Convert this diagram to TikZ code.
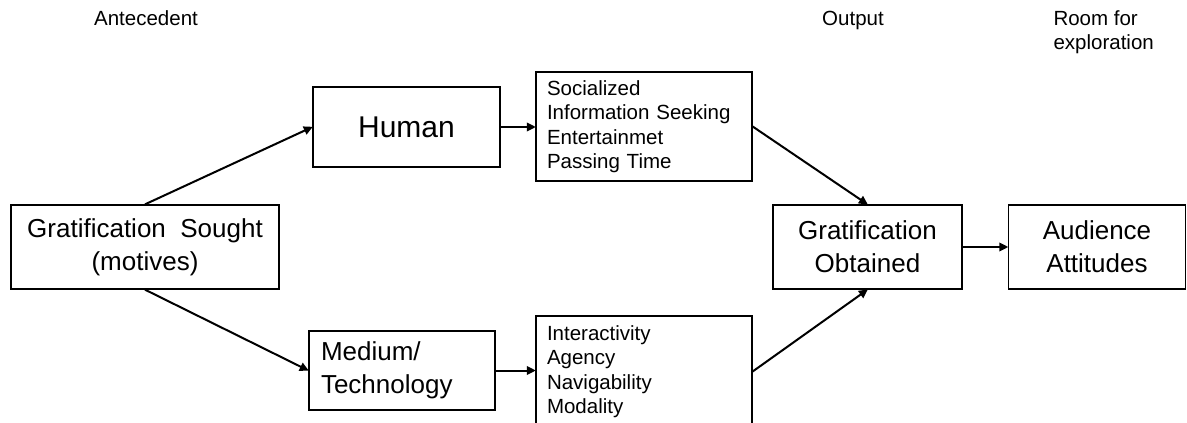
\documentclass[tikz,border=0pt]{standalone}
\usepackage{fontspec}
\setmainfont{Liberation Sans}
\usetikzlibrary{arrows.meta}
\begin{document}
\begin{tikzpicture}[x=1pt,y=-1pt,
  box/.style={draw=black,line width=1.3pt,inner sep=0pt,minimum width=#1},
  big/.style={font=\fontsize{26}{33}\selectfont,align=center},
  listbox/.style={draw=black,line width=1.3pt,inner xsep=11pt,inner ysep=0pt,
    font=\fontsize{20.5}{24.5}\selectfont,align=left,text width=194pt,minimum width=216pt},
  lbl/.style={font=\fontsize{20.5}{24}\selectfont},
  conn/.style={line width=2pt,-{Triangle[length=9pt,width=8.5pt]},shorten >=-0.5pt}]
\useasboundingbox (0,0) rectangle (1187,423);
\clip (0,0) rectangle (1187,423);

% column headings
\node[lbl] (hdA) at (146,18) {Antecedent};
\node[lbl] (hdO) at (853,20) {Output};
\node[lbl,align=left,anchor=west] (hdR) at (1050,32) {Room for\\exploration};

% boxes
\node[box=268pt,minimum height=84pt,big] (sought) at (145,247) {Gratification\ \ Sought\\(motives)};
\node[box=187pt,minimum height=80pt,big,font=\fontsize{30}{33}\selectfont] (human) at (406.5,127) {Human};
\node[box=186pt,minimum height=79pt,big,align=left,text width=162pt] (medium) at (402,370.5) {Medium/\\Technology};
\node[listbox,minimum height=109pt] (needs) at (644,126.5) {Socialized\\Information Seeking\\Entertainmet\\Passing Time};
\node[listbox,minimum height=111pt] (features) at (644,371.5) {Interactivity\\Agency\\Navigability\\Modality};
\node[box=189pt,minimum height=84pt,big] (obtained) at (867.5,247) {Gratification\\Obtained};
\node[box=177pt,minimum height=84pt,big] (attitudes) at (1097,247) {Audience\\Attitudes};

% connectors
\draw[conn] (sought.north) -- (human.west);
\draw[conn] (sought.south) -- (medium.west);
\draw[conn] (human.east) -- (human.east -| needs.west);
\draw[conn] (medium.east) -- (medium.east -| features.west);
\draw[conn] (needs.east) -- (obtained.north);
\draw[conn] (features.east) -- (obtained.south);
\draw[conn] (obtained.east) -- (attitudes.west);
\end{tikzpicture}
\end{document}
